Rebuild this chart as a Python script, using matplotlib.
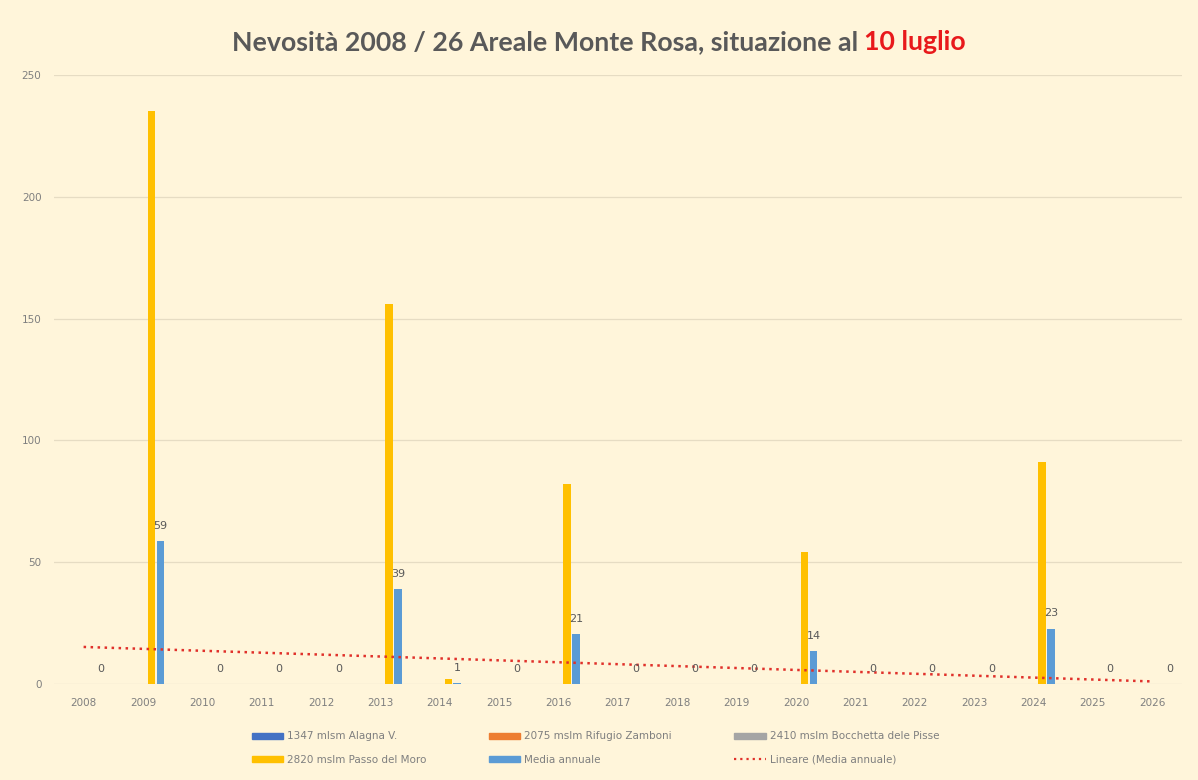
import matplotlib.pyplot as plt
import numpy as np
from matplotlib.lines import Line2D
from matplotlib.patches import Patch

years = list(range(2008, 2027))
alagna = [0] * 19
zamboni = [0] * 19
bocchetta = [0] * 19
passo_moro = [0, 235, 0, 0, 0, 156, 2, 0, 82, 0, 0, 0, 54, 0, 0, 0, 91, 0, 0]
media = [0, 58.75, 0, 0, 0, 39, 0.5, 0, 20.5, 0, 0, 0, 13.5, 0, 0, 0, 22.75, 0, 0]

series_names = ["1347 mlsm Alagna V.", "2075 mslm Rifugio Zamboni",
                "2410 mslm Bocchetta dele Pisse", "2820 mslm Passo del Moro",
                "Media annuale"]
colors = ["#4472C4", "#ED7D31", "#A5A5A5", "#FFC000", "#5B9BD5"]

bg = "#FFF5DA"
grey_txt = "#7F7F7F"

fig = plt.figure(figsize=(11.98, 7.8), dpi=100, facecolor=bg)
ax = fig.add_axes([0.045, 0.123, 0.9415, 0.781])
ax.set_facecolor(bg)

x = np.arange(len(years))
step = 0.147
width = 0.127
all_series = [alagna, zamboni, bocchetta, passo_moro, media]
for i, (vals, col) in enumerate(zip(all_series, colors)):
    off = (i - 2) * step
    ax.bar(x + off, vals, width=width, color=col, zorder=3)

# data labels on the annual mean
for xi, v in zip(x, media):
    ax.annotate(str(int(v + 0.5)), (xi + 2 * step, v), xytext=(0, 11),
                textcoords="offset points", ha="center", va="center",
                fontsize=8, color="#595959", zorder=5)

# linear trend of the mean
k, q = np.polyfit(x, media, 1)
ax.plot(x, k * x + q, color="#E0302A", linestyle=(0, (1, 1.8)), linewidth=1.8, zorder=4)

ax.set_xlim(-0.5, len(years) - 0.5)
ax.set_ylim(0, 250)
ax.set_yticks([0, 50, 100, 150, 200, 250])
ax.set_xticks(x)
ax.set_xticklabels([str(y) for y in years])
ax.tick_params(axis="both", length=0, labelsize=7.5, labelcolor=grey_txt)
ax.tick_params(axis="y", pad=9)
ax.tick_params(axis="x", pad=10)
ax.yaxis.grid(True, color="#E6DCC3", linewidth=0.9, zorder=0)
for s in ax.spines.values():
    s.set_visible(False)

# title: grey part + red part
fig.canvas.draw()
r = fig.canvas.get_renderer()
t1 = fig.text(0.5, 0.946, "Nevosità 2008 / 26 Areale Monte Rosa, situazione al ",
              fontsize=19.3, fontweight="bold", color="#595959", family="Lato",
              ha="left", va="center")
t2 = fig.text(0.5, 0.946, "10 luglio", fontsize=19.3, fontweight="bold",
              color="#E8191B", family="Lato", ha="left", va="center")
w1 = t1.get_window_extent(r).width
w2 = t2.get_window_extent(r).width
x0 = 599 - (w1 + w2) / 2
t1.set_x(x0 / 1198)
t2.set_x((x0 + w1) / 1198)

handles = [Patch(color=c) for c in colors]
handles.append(Line2D([0], [0], color="#E0302A", linestyle=(0, (1, 1.8)), linewidth=1.6))
labels = series_names + ["Lineare (Media annuale)"]
order = [0, 3, 1, 4, 2, 5]
leg = fig.legend([handles[i] for i in order], [labels[i] for i in order],
                 loc="center", bbox_to_anchor=(0.497, 0.041), ncol=3, frameon=False,
                 fontsize=7.5, handlelength=3, handleheight=0.5, columnspacing=6,
                 labelspacing=1.3, handletextpad=0.4)
for t in leg.get_texts():
    t.set_color(grey_txt)

fig.savefig("out.png", dpi=100, facecolor=bg)
